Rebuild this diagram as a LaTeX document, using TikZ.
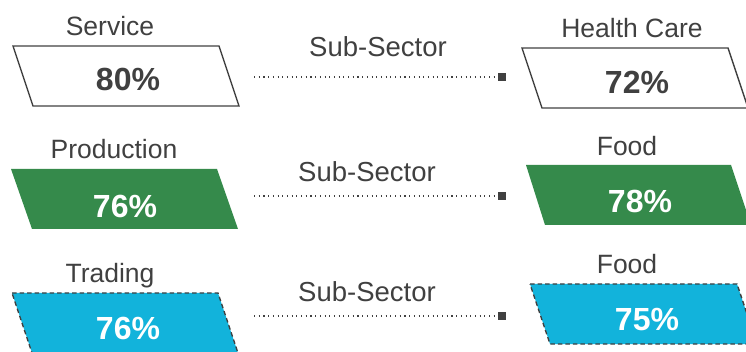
\documentclass[tikz,border=0pt]{standalone}
\usepackage{fontspec}
\setmainfont{Liberation Sans}
\begin{document}
\begin{tikzpicture}[x=1pt,y=-1pt,
  txt/.style={text=labgrey,inner sep=0pt,anchor=center},
  lbl/.style={txt,font=\fontsize{26.5}{30}\selectfont},
  sub/.style={txt,font=\fontsize{27.5}{31}\selectfont},
  pct/.style={txt,font=\fontsize{32}{37}\selectfont\bfseries},
  pctw/.style={pct,text=white},
  para/.style={draw=labgrey,line width=1.4pt,line join=miter},
  dashpara/.style={para,dash pattern=on 4.5pt off 3pt},
  dotline/.style={draw=labgrey,line width=1.1pt,dash pattern=on 1.1pt off 3.6pt},
  sq/.style={fill=labgrey,minimum size=8pt,inner sep=0pt,outer sep=0pt}]
\definecolor{labgrey}{HTML}{404040}
\definecolor{pgreen}{HTML}{358A4B}
\definecolor{pcyan}{HTML}{12B3DB}
\useasboundingbox (0,0) rectangle (746,352);
\clip (0,0) rectangle (746,352);
% row 1
\draw[para] (13,46) -- (219,46) -- (239,106) -- (33,106) -- cycle;
\draw[para] (522,48) -- (728,48) -- (748,108) -- (542,108) -- cycle;
\node[lbl] (l1) at (110,26) {Service};
\node[lbl] (r1) at (632,28) {Health Care};
\node[pct] (p1) at (128,79) {80\%};
\node[pct] (q1) at (637,82) {72\%};
\node[sub] (s1) at (378,47) {Sub-Sector};
\coordinate (a1) at (254,77);
\node[sq] (m1) at (502,77) {};
\draw[dotline] (a1) -- (m1.west);
% row 2
\draw[para,draw=none,fill=pgreen] (11,169) -- (217,169) -- (238,229) -- (32,229) -- cycle;
\draw[para,draw=none,fill=pgreen] (526,165) -- (731,165) -- (751,225) -- (545,225) -- cycle;
\node[lbl] (l2) at (114,149) {Production};
\node[lbl] (r2) at (627,146) {Food};
\node[pctw] (p2) at (125,206) {76\%};
\node[pctw] (q2) at (640,201) {78\%};
\node[sub] (s2) at (367,172) {Sub-Sector};
\coordinate (a2) at (254,196);
\node[sq] (m2) at (502,196) {};
\draw[dotline] (a2) -- (m2.west);
% row 3
\draw[dashpara,fill=pcyan] (12,293) -- (218,293) -- (238,353) -- (32,353) -- cycle;
\draw[dashpara,fill=pcyan] (530,284) -- (737,284) -- (757,344) -- (550,344) -- cycle;
\node[lbl] (l3) at (110,276) {Trading};
\node[lbl] (r3) at (627,264) {Food};
\node[pctw] (p3) at (128,328) {76\%};
\node[pctw] (q3) at (647,320) {75\%};
\node[sub] (s3) at (367,292) {Sub-Sector};
\coordinate (a3) at (254,316);
\node[sq] (m3) at (502,316) {};
\draw[dotline] (a3) -- (m3.west);
\end{tikzpicture}
\end{document}
